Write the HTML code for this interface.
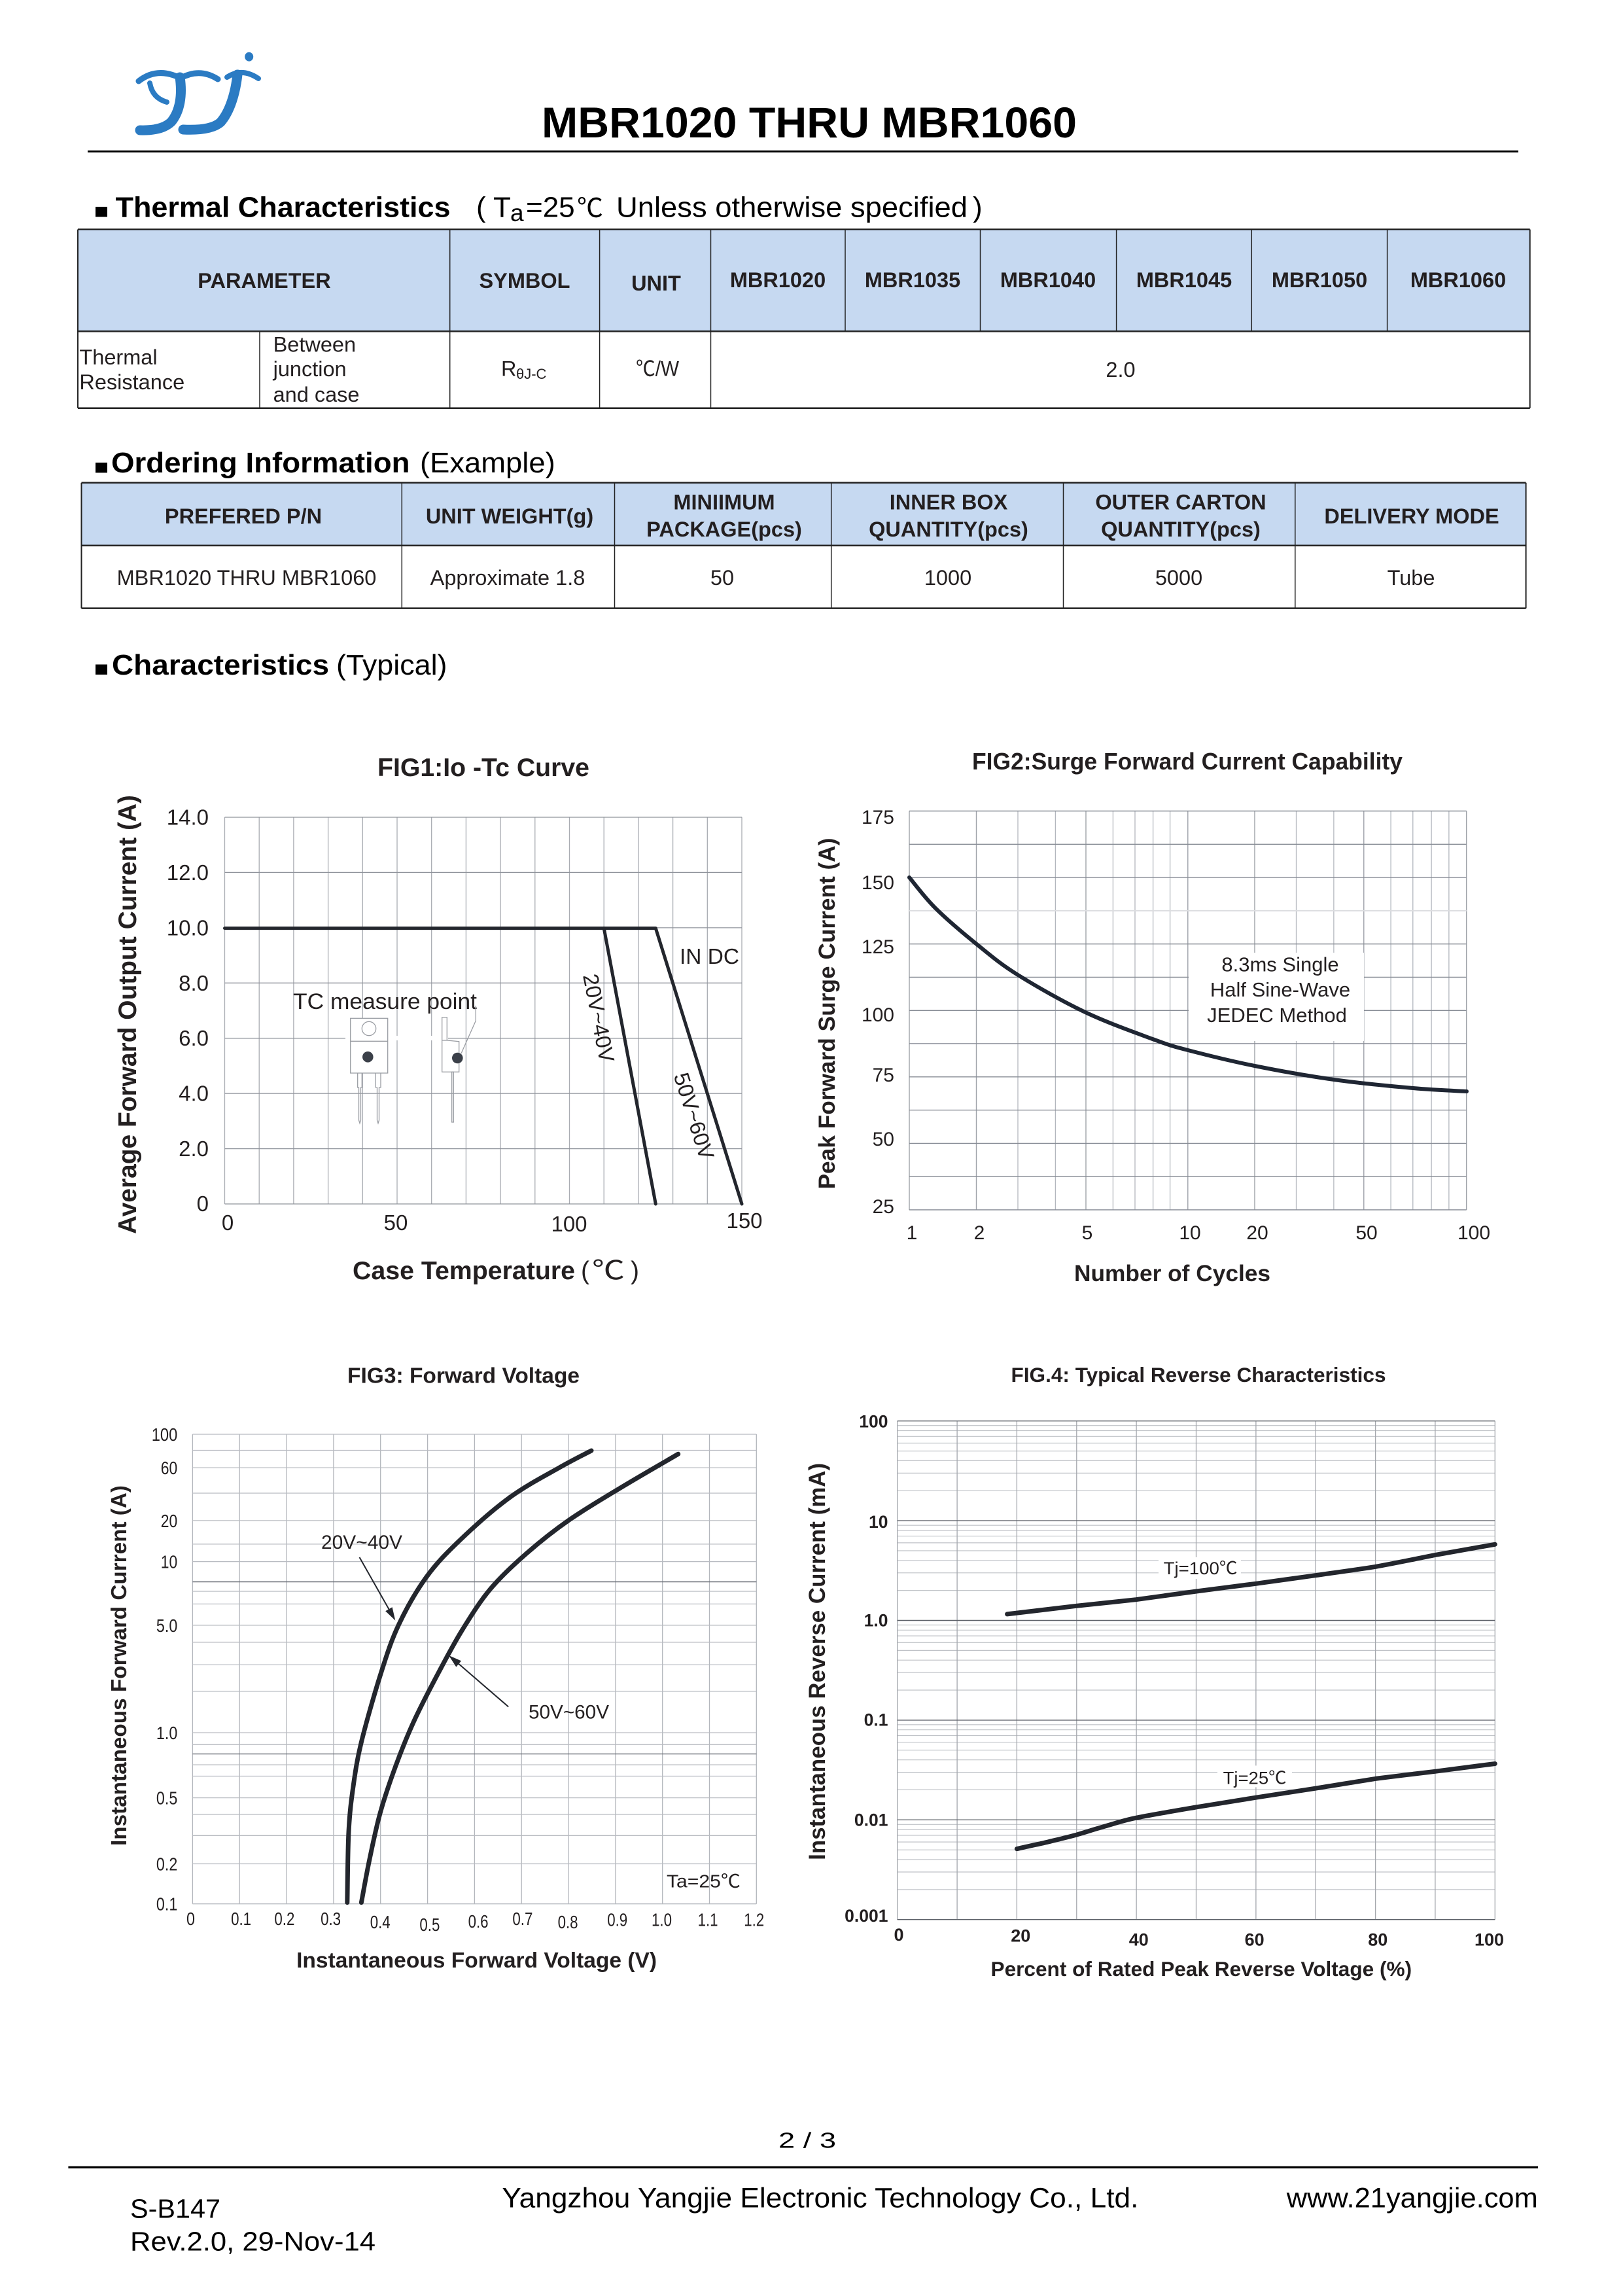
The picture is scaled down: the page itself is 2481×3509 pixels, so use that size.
<!DOCTYPE html>
<html><head><meta charset="utf-8"><style>
html,body{margin:0;padding:0;background:#fff;}
svg{display:block;}
text{font-family:"Liberation Sans","Noto Sans CJK SC",sans-serif;fill:#231f20;}
.b{font-weight:bold;}
</style></head><body>
<svg width="2481" height="3509" viewBox="0 0 2481 3509" xmlns="http://www.w3.org/2000/svg">
<rect width="2481" height="3509" fill="#fff"/>

<!-- LOGO -->
<g fill="none" stroke="#2b7bc3" stroke-linecap="round">
<path d="M212,124 Q240,102 275,119" stroke-width="9"/>
<path d="M229,127 Q233,150 255,156" stroke-width="8"/>
<path d="M275,118 C279,146 275,170 262,186 Q248,200 214,199" stroke-width="15"/>
<path d="M275,120 Q305,103 333,121" stroke-width="9"/>
<path d="M363,114 C360,141 352,170 337,187 Q322,200 280,198" stroke-width="15"/>
<path d="M347,118 Q370,103 395,120" stroke-width="8"/>
</g>
<ellipse cx="380.7" cy="86.7" rx="6.5" ry="7" fill="#2b7bc3"/>

<!-- TITLE -->
<text x="828" y="210" class="b" font-size="66" textLength="818" lengthAdjust="spacingAndGlyphs" style="fill:#000">MBR1020 THRU MBR1060</text>
<line x1="134" y1="231.5" x2="2321" y2="231.5" stroke="#000" stroke-width="3"/>

<!-- THERMAL HEADING -->
<rect x="146" y="316" width="18" height="15.5" fill="#000"/>
<text x="176.5" y="331.4" class="b" font-size="44" textLength="512" lengthAdjust="spacingAndGlyphs" style="fill:#000">Thermal Characteristics</text>
<text x="728" y="331.4" font-size="44" style="fill:#000">(</text>
<text x="754" y="331.4" font-size="44" style="fill:#000">T</text>
<text x="780" y="338" font-size="37" style="fill:#000">a</text>
<text x="804" y="331.4" font-size="44" style="fill:#000">=25</text>
<text x="882" y="331.4" font-size="40" style="fill:#000">℃</text>
<text x="942" y="331.4" font-size="44" textLength="537" lengthAdjust="spacingAndGlyphs" style="fill:#000">Unless otherwise specified</text>
<text x="1487" y="331.4" font-size="44" style="fill:#000">)</text>

<!-- THERMAL TABLE -->
<rect x="119" y="350.6" width="2219.7" height="155.8" fill="#c6d9f1"/>
<g stroke="#222" fill="none">
<line x1="119" y1="350.6" x2="2338.7" y2="350.6" stroke-width="2.5"/>
<line x1="119" y1="506.4" x2="2338.7" y2="506.4" stroke-width="2.5"/>
<line x1="119" y1="623.8" x2="2338.7" y2="623.8" stroke-width="2.5"/>
<line x1="119" y1="350.6" x2="119" y2="623.8" stroke-width="2"/>
<line x1="2338.7" y1="350.6" x2="2338.7" y2="623.8" stroke-width="2"/>
<line x1="397" y1="506.4" x2="397" y2="623.8" stroke-width="1.5"/>
<line x1="687.7" y1="350.6" x2="687.7" y2="623.8" stroke-width="1.5"/>
<line x1="916.6" y1="350.6" x2="916.6" y2="623.8" stroke-width="1.5"/>
<line x1="1086.5" y1="350.6" x2="1086.5" y2="623.8" stroke-width="1.5"/>
<line x1="1292" y1="350.6" x2="1292" y2="506.4" stroke-width="1.5"/>
<line x1="1498.5" y1="350.6" x2="1498.5" y2="506.4" stroke-width="1.5"/>
<line x1="1706.6" y1="350.6" x2="1706.6" y2="506.4" stroke-width="1.5"/>
<line x1="1913.3" y1="350.6" x2="1913.3" y2="506.4" stroke-width="1.5"/>
<line x1="2120.6" y1="350.6" x2="2120.6" y2="506.4" stroke-width="1.5"/>
</g>
<g class="b" font-size="32.5" text-anchor="middle">
<text x="404" y="440" class="b">PARAMETER</text>
<text x="802" y="440" class="b">SYMBOL</text>
<text x="1003" y="444" class="b">UNIT</text>
<text x="1189" y="439" class="b">MBR1020</text>
<text x="1395" y="439" class="b">MBR1035</text>
<text x="1602" y="439" class="b">MBR1040</text>
<text x="1810" y="439" class="b">MBR1045</text>
<text x="2017" y="439" class="b">MBR1050</text>
<text x="2229" y="439" class="b">MBR1060</text>
</g>
<g font-size="32.5">
<text x="121.4" y="557">Thermal</text>
<text x="121.4" y="595">Resistance</text>
<text x="417.6" y="537.7">Between</text>
<text x="417.6" y="575">junction</text>
<text x="417.6" y="614">and case</text>
<text x="766" y="574.7">R</text>
<text x="789" y="579" font-size="22">θJ-C</text>
<text x="972" y="574.7" textLength="66" lengthAdjust="spacingAndGlyphs">℃/W</text>
<text x="1713" y="576" text-anchor="middle">2.0</text>
</g>

<!-- ORDERING HEADING -->
<rect x="146" y="707" width="18" height="15.5" fill="#000"/>
<text x="170" y="722" class="b" font-size="44" textLength="456.5" lengthAdjust="spacingAndGlyphs" style="fill:#000">Ordering Information</text>
<text x="642" y="722" font-size="44" textLength="206.7" lengthAdjust="spacingAndGlyphs" style="fill:#000">(Example)</text>

<!-- ORDERING TABLE -->
<rect x="124.5" y="737.7" width="2208.1" height="96" fill="#c6d9f1"/>
<g stroke="#222" fill="none">
<line x1="124.5" y1="737.7" x2="2332.6" y2="737.7" stroke-width="2.5"/>
<line x1="124.5" y1="833.7" x2="2332.6" y2="833.7" stroke-width="2.5"/>
<line x1="124.5" y1="929.6" x2="2332.6" y2="929.6" stroke-width="2.5"/>
<line x1="124.5" y1="737.7" x2="124.5" y2="929.6" stroke-width="2"/>
<line x1="2332.6" y1="737.7" x2="2332.6" y2="929.6" stroke-width="2"/>
<line x1="614.3" y1="737.7" x2="614.3" y2="929.6" stroke-width="1.5"/>
<line x1="939.5" y1="737.7" x2="939.5" y2="929.6" stroke-width="1.5"/>
<line x1="1270.7" y1="737.7" x2="1270.7" y2="929.6" stroke-width="1.5"/>
<line x1="1625.5" y1="737.7" x2="1625.5" y2="929.6" stroke-width="1.5"/>
<line x1="1979.8" y1="737.7" x2="1979.8" y2="929.6" stroke-width="1.5"/>
</g>
<g font-size="32.5" text-anchor="middle">
<text x="372" y="800" class="b">PREFERED P/N</text>
<text x="779" y="800" class="b">UNIT WEIGHT(g)</text>
<text x="1107" y="778.7" class="b">MINIIMUM</text>
<text x="1107" y="820" class="b">PACKAGE(pcs)</text>
<text x="1450" y="778.7" class="b">INNER BOX</text>
<text x="1450" y="820" class="b">QUANTITY(pcs)</text>
<text x="1805" y="778.7" class="b">OUTER CARTON</text>
<text x="1805" y="820" class="b">QUANTITY(pcs)</text>
<text x="2158" y="800" class="b">DELIVERY MODE</text>
<text x="377" y="894">MBR1020 THRU MBR1060</text>
<text x="776" y="894">Approximate 1.8</text>
<text x="1104" y="894">50</text>
<text x="1449" y="894">1000</text>
<text x="1802" y="894">5000</text>
<text x="2157" y="894">Tube</text>
</g>

<!-- CHARACTERISTICS HEADING -->
<rect x="146" y="1015.5" width="18" height="15.5" fill="#000"/>
<text x="171" y="1031" class="b" font-size="44" textLength="332" lengthAdjust="spacingAndGlyphs" style="fill:#000">Characteristics</text>
<text x="514" y="1031" font-size="44" textLength="169.5" lengthAdjust="spacingAndGlyphs" style="fill:#000">(Typical)</text>

<!-- ================= FIG1 ================= -->
<text x="739" y="1186" class="b" font-size="39" text-anchor="middle" textLength="324" lengthAdjust="spacingAndGlyphs">FIG1:Io -Tc Curve</text>
<g stroke="#a9acb2" stroke-width="1.3">
<line x1="343.5" y1="1249" x2="343.5" y2="1840"/>
<line x1="396.2" y1="1249" x2="396.2" y2="1840"/>
<line x1="448.9" y1="1249" x2="448.9" y2="1840"/>
<line x1="501.6" y1="1249" x2="501.6" y2="1840"/>
<line x1="554.3" y1="1249" x2="554.3" y2="1840"/>
<line x1="607" y1="1249" x2="607" y2="1840"/>
<line x1="659.7" y1="1249" x2="659.7" y2="1840"/>
<line x1="712.4" y1="1249" x2="712.4" y2="1840"/>
<line x1="765.1" y1="1249" x2="765.1" y2="1840"/>
<line x1="817.8" y1="1249" x2="817.8" y2="1840"/>
<line x1="870.5" y1="1249" x2="870.5" y2="1840"/>
<line x1="923.2" y1="1249" x2="923.2" y2="1840"/>
<line x1="975.9" y1="1249" x2="975.9" y2="1840"/>
<line x1="1028.6" y1="1249" x2="1028.6" y2="1840"/>
<line x1="1081.3" y1="1249" x2="1081.3" y2="1840"/>
<line x1="1134" y1="1249" x2="1134" y2="1840"/>
</g>
<g stroke="#8f939b" stroke-width="1.3">
<line x1="343.5" y1="1840" x2="1134" y2="1840"/>
<line x1="343.5" y1="1755.6" x2="1134" y2="1755.6"/>
<line x1="343.5" y1="1671.1" x2="1134" y2="1671.1"/>
<line x1="343.5" y1="1586.7" x2="1134" y2="1586.7"/>
<line x1="343.5" y1="1502.3" x2="1134" y2="1502.3"/>
<line x1="343.5" y1="1417.9" x2="1134" y2="1417.9"/>
<line x1="343.5" y1="1333.4" x2="1134" y2="1333.4"/>
<line x1="343.5" y1="1249" x2="1134" y2="1249"/>
</g>
<rect x="528" y="1583" width="157" height="7" fill="#fff"/>
<g font-size="33" text-anchor="end">
<text x="319" y="1851">0</text>
<text x="319" y="1767">2.0</text>
<text x="319" y="1682.6">4.0</text>
<text x="319" y="1598">6.0</text>
<text x="319" y="1513.8">8.0</text>
<text x="319" y="1429.4">10.0</text>
<text x="319" y="1345">12.0</text>
<text x="319" y="1260.5">14.0</text>
</g>
<g font-size="33" text-anchor="middle">
<text x="348" y="1880">0</text>
<text x="605" y="1880">50</text>
<text x="870" y="1882">100</text>
<text x="1138" y="1877">150</text>
</g>
<text transform="translate(208,1550.5) rotate(-90)" class="b" font-size="39" text-anchor="middle" textLength="671" lengthAdjust="spacingAndGlyphs">Average Forward Output Current (A)</text>
<text x="539" y="1955" class="b" font-size="39" textLength="340" lengthAdjust="spacingAndGlyphs">Case Temperature</text>
<text x="888" y="1955" font-size="39">(</text>
<text x="905" y="1955" font-size="40" textLength="50" lengthAdjust="spacingAndGlyphs">℃</text>
<text x="964" y="1955" font-size="39">)</text>
<g stroke="#23262d" stroke-width="5" fill="none" stroke-linecap="round" stroke-linejoin="round">
<polyline points="343.5,1418.6 1002.3,1418.6 1134,1840"/>
<line x1="923.2" y1="1418.6" x2="1002.3" y2="1840"/>
</g>
<text x="1039" y="1473" font-size="33" textLength="91" lengthAdjust="spacingAndGlyphs">IN DC</text>
<text transform="translate(904,1558) rotate(79)" font-size="33" text-anchor="middle">20V~40V</text>
<text transform="translate(1050,1709) rotate(72.6)" font-size="33" text-anchor="middle">50V~60V</text>
<text x="448" y="1542" font-size="34" textLength="281" lengthAdjust="spacingAndGlyphs">TC measure point</text>
<g stroke="#9a9da3" stroke-width="1.3" fill="#fff">
<rect x="535.7" y="1556.3" width="57" height="83.7"/>
<line x1="535.7" y1="1591.3" x2="592.7" y2="1591.3"/>
<circle cx="564" cy="1572" r="10.7" fill="none"/>
<polyline points="546.7,1640 546.7,1662 548.5,1662 548.5,1712 550,1716.7 551.5,1712 551.5,1662 553.3,1662 553.3,1640" fill="none"/>
<polyline points="574.3,1640 574.3,1662 576.5,1662 576.5,1712 578,1716.7 579.5,1712 579.5,1662 582,1662 582,1640" fill="none"/>
<rect x="675.7" y="1554.7" width="7.6" height="35.3"/>
<polygon points="675.7,1590 683.3,1590 701.7,1591.7 701.7,1638.3 675.7,1638.3"/>
<rect x="690.7" y="1638.3" width="2.6" height="76.7" fill="none"/>
<polyline points="705,1610 727.3,1560 727.3,1537" fill="none"/>
</g>
<circle cx="562.3" cy="1615.3" r="8.3" fill="#3b4049"/>
<circle cx="699.3" cy="1617" r="8.3" fill="#3b4049"/>

<!-- ================= FIG2 ================= -->
<text x="1815" y="1176" class="b" font-size="36" text-anchor="middle" textLength="658" lengthAdjust="spacingAndGlyphs">FIG2:Surge Forward Current Capability</text>
<g stroke="#b3b7be" stroke-width="1.3">
<line x1="1556" y1="1239.5" x2="1556" y2="1849"/>
<line x1="1613.4" y1="1239.5" x2="1613.4" y2="1849"/>
<line x1="1701.4" y1="1239.5" x2="1701.4" y2="1849"/>
<line x1="1735" y1="1239.5" x2="1735" y2="1849"/>
<line x1="1762.6" y1="1239.5" x2="1762.6" y2="1849"/>
<line x1="1788.6" y1="1239.5" x2="1788.6" y2="1849"/>
<line x1="1981.5" y1="1239.5" x2="1981.5" y2="1849"/>
<line x1="2038.9" y1="1239.5" x2="2038.9" y2="1849"/>
<line x1="2126.1" y1="1239.5" x2="2126.1" y2="1849"/>
<line x1="2159.8" y1="1239.5" x2="2159.8" y2="1849"/>
<line x1="2188.1" y1="1239.5" x2="2188.1" y2="1849"/>
<line x1="2214.9" y1="1239.5" x2="2214.9" y2="1849"/>
</g>
<g stroke="#9ea2a9" stroke-width="1.4">
<line x1="1390" y1="1239.5" x2="1390" y2="1849"/>
<line x1="1492.5" y1="1239.5" x2="1492.5" y2="1849"/>
<line x1="1660" y1="1239.5" x2="1660" y2="1849"/>
<line x1="1815.8" y1="1239.5" x2="1815.8" y2="1849"/>
<line x1="1918" y1="1239.5" x2="1918" y2="1849"/>
<line x1="2084.8" y1="1239.5" x2="2084.8" y2="1849"/>
<line x1="2241.7" y1="1239.5" x2="2241.7" y2="1849"/>
</g>
<g stroke="#878c95" stroke-width="1.4">
<line x1="1390" y1="1849" x2="2241.7" y2="1849"/>
<line x1="1390" y1="1798.2" x2="2241.7" y2="1798.2"/>
<line x1="1390" y1="1747.4" x2="2241.7" y2="1747.4"/>
<line x1="1390" y1="1696.6" x2="2241.7" y2="1696.6"/>
<line x1="1390" y1="1645.8" x2="2241.7" y2="1645.8"/>
<line x1="1390" y1="1595" x2="2241.7" y2="1595"/>
<line x1="1390" y1="1544.3" x2="2241.7" y2="1544.3"/>
<line x1="1390" y1="1493.5" x2="2241.7" y2="1493.5"/>
<line x1="1390" y1="1442.7" x2="2241.7" y2="1442.7"/>
<line x1="1390" y1="1341.1" x2="2241.7" y2="1341.1"/>
<line x1="1390" y1="1290.3" x2="2241.7" y2="1290.3"/>
<line x1="1390" y1="1239.5" x2="2241.7" y2="1239.5"/>
</g>
<line x1="1390" y1="1391.9" x2="2241.7" y2="1391.9" stroke="#dcdde0" stroke-width="2"/>
<rect x="1817" y="1456" width="268" height="135" fill="#fff"/>
<g font-size="31" text-anchor="middle">
<text x="1957" y="1484.6">8.3ms Single</text>
<text x="1957" y="1523">Half Sine-Wave</text>
<text x="1952" y="1562">JEDEC Method</text>
</g>
<path fill="none" stroke="#1f2633" stroke-width="6" stroke-linecap="round" d="M1390,1341 C1396.7,1348.8 1412.8,1371 1430,1388 C1447.2,1405 1472,1426 1493,1443 C1514,1460 1528.3,1472.7 1556,1490 C1583.7,1507.3 1624.7,1530.7 1659,1547 C1693.3,1563.3 1735.8,1578.3 1762,1588 C1788.2,1597.7 1790,1598.2 1816,1605 C1842,1611.8 1880.8,1621.5 1918,1629 C1955.2,1636.5 1998.7,1644.3 2039,1650 C2079.3,1655.7 2126.2,1660 2160,1663 C2193.8,1666 2228.3,1667.2 2242,1668"/>
<g font-size="30" text-anchor="end">
<text x="1367" y="1259">175</text>
<text x="1367" y="1359">150</text>
<text x="1367" y="1457">125</text>
<text x="1367" y="1561">100</text>
<text x="1367" y="1653">75</text>
<text x="1367" y="1751">50</text>
<text x="1367" y="1854">25</text>
</g>
<g font-size="30" text-anchor="middle">
<text x="1394" y="1894">1</text>
<text x="1497" y="1894">2</text>
<text x="1662" y="1894">5</text>
<text x="1819" y="1894">10</text>
<text x="1922" y="1894">20</text>
<text x="2089" y="1894">50</text>
<text x="2253" y="1894">100</text>
</g>
<text transform="translate(1276,1549) rotate(-90)" class="b" font-size="35" text-anchor="middle" textLength="537" lengthAdjust="spacingAndGlyphs">Peak Forward Surge Current (A)</text>
<text x="1792" y="1958" class="b" font-size="35" text-anchor="middle" textLength="300" lengthAdjust="spacingAndGlyphs">Number of Cycles</text>

<!-- ================= FIG3 ================= -->
<text x="708.5" y="2113.4" class="b" font-size="33" text-anchor="middle" textLength="355" lengthAdjust="spacingAndGlyphs">FIG3: Forward Voltage</text>
<g stroke="#b3b6bc" stroke-width="1.3">
<line x1="294.4" y1="2192" x2="294.4" y2="2909.7"/>
<line x1="366.2" y1="2192" x2="366.2" y2="2909.7"/>
<line x1="438.1" y1="2192" x2="438.1" y2="2909.7"/>
<line x1="509.9" y1="2192" x2="509.9" y2="2909.7"/>
<line x1="581.7" y1="2192" x2="581.7" y2="2909.7"/>
<line x1="653.6" y1="2192" x2="653.6" y2="2909.7"/>
<line x1="725.4" y1="2192" x2="725.4" y2="2909.7"/>
<line x1="797.2" y1="2192" x2="797.2" y2="2909.7"/>
<line x1="869" y1="2192" x2="869" y2="2909.7"/>
<line x1="940.9" y1="2192" x2="940.9" y2="2909.7"/>
<line x1="1012.7" y1="2192" x2="1012.7" y2="2909.7"/>
<line x1="1084.5" y1="2192" x2="1084.5" y2="2909.7"/>
<line x1="1156.3" y1="2192" x2="1156.3" y2="2909.7"/>
</g>
<g stroke="#b8bbc1" stroke-width="1.3">
<line x1="294.4" y1="2192" x2="1156.3" y2="2192"/>
<line x1="294.4" y1="2216.5" x2="1156.3" y2="2216.5"/>
<line x1="294.4" y1="2243.1" x2="1156.3" y2="2243.1"/>
<line x1="294.4" y1="2282" x2="1156.3" y2="2282"/>
<line x1="294.4" y1="2323.9" x2="1156.3" y2="2323.9"/>
<line x1="294.4" y1="2359.9" x2="1156.3" y2="2359.9"/>
<line x1="294.4" y1="2386.6" x2="1156.3" y2="2386.6"/>
<line x1="294.4" y1="2432" x2="1156.3" y2="2432"/>
<line x1="294.4" y1="2451.4" x2="1156.3" y2="2451.4"/>
<line x1="294.4" y1="2483.8" x2="1156.3" y2="2483.8"/>
<line x1="294.4" y1="2509.8" x2="1156.3" y2="2509.8"/>
<line x1="294.4" y1="2544.4" x2="1156.3" y2="2544.4"/>
<line x1="294.4" y1="2584.7" x2="1156.3" y2="2584.7"/>
<line x1="294.4" y1="2648.2" x2="1156.3" y2="2648.2"/>
<line x1="294.4" y1="2666.2" x2="1156.3" y2="2666.2"/>
<line x1="294.4" y1="2697.2" x2="1156.3" y2="2697.2"/>
<line x1="294.4" y1="2714.5" x2="1156.3" y2="2714.5"/>
<line x1="294.4" y1="2747.6" x2="1156.3" y2="2747.6"/>
<line x1="294.4" y1="2772.8" x2="1156.3" y2="2772.8"/>
<line x1="294.4" y1="2805.3" x2="1156.3" y2="2805.3"/>
<line x1="294.4" y1="2848.5" x2="1156.3" y2="2848.5"/>
<line x1="294.4" y1="2909.7" x2="1156.3" y2="2909.7"/>
</g>
<g stroke="#6d7179" stroke-width="1.4">
<line x1="294.4" y1="2417.5" x2="1156.3" y2="2417.5"/>
<line x1="294.4" y1="2680.6" x2="1156.3" y2="2680.6"/>
</g>
<g fill="none" stroke="#23262d" stroke-width="7" stroke-linecap="round">
<path d="M530.8,2907.6 C531.2,2889.7 531.5,2829.6 533,2800 C534.5,2770.4 536.7,2753.3 540,2730 C543.3,2706.7 545.8,2689.2 553,2660 C560.2,2630.8 573.5,2584.7 583,2555 C592.5,2525.3 598.5,2506.2 610,2482 C621.5,2457.8 636.3,2431.5 652,2410 C667.7,2388.5 682.7,2373.3 704,2353 C725.3,2332.7 754.8,2306.3 780,2288 C805.2,2269.7 834.3,2254.8 855,2243 C875.7,2231.2 895.8,2221.3 904,2217"/>
<path d="M552.4,2907.6 C554.45,2896.8 559.9,2865.5 564.7,2842.7 C569.5,2819.9 574.5,2794.7 581.2,2770.7 C587.9,2746.7 596.4,2722 605,2698.6 C613.6,2675.2 622,2654 633,2630 C644.1,2606 658.9,2577.8 671.3,2554.5 C683.7,2531.2 694.2,2511.1 707.3,2490 C720.4,2468.9 733.7,2447.3 750,2428 C766.3,2408.7 785,2391.5 805,2374 C825,2356.5 845.8,2339.8 870,2323 C894.2,2306.2 922.2,2289.8 950,2273 C977.8,2256.2 1022.3,2230.7 1036.7,2222.2"/>
</g>
<g stroke="#23262d" stroke-width="2">
<line x1="549.5" y1="2380" x2="596" y2="2462"/>
<line x1="777.2" y1="2608.5" x2="699" y2="2541"/>
</g>
<polygon points="604.3,2476.6 589.2,2462.2 599.6,2456.2" fill="#23262d"/>
<polygon points="686,2530 705.1,2538.4 697.3,2547.6" fill="#23262d"/>
<text x="491" y="2367" font-size="30" textLength="124" lengthAdjust="spacingAndGlyphs">20V~40V</text>
<text x="808" y="2626.5" font-size="30" textLength="123" lengthAdjust="spacingAndGlyphs">50V~60V</text>
<text x="1019" y="2884.5" font-size="28" textLength="113" lengthAdjust="spacingAndGlyphs">Ta=25℃</text>
<g font-size="28" text-anchor="end">
<text x="271.3" y="2202" textLength="39.6" lengthAdjust="spacingAndGlyphs">100</text>
<text x="271.3" y="2253" textLength="25.5" lengthAdjust="spacingAndGlyphs">60</text>
<text x="271.3" y="2334" textLength="25.5" lengthAdjust="spacingAndGlyphs">20</text>
<text x="271.3" y="2396.6" textLength="25.5" lengthAdjust="spacingAndGlyphs">10</text>
<text x="271.3" y="2493.8" textLength="32.4" lengthAdjust="spacingAndGlyphs">5.0</text>
<text x="271.3" y="2658.2" textLength="32.4" lengthAdjust="spacingAndGlyphs">1.0</text>
<text x="271.3" y="2757.6" textLength="32.4" lengthAdjust="spacingAndGlyphs">0.5</text>
<text x="271.3" y="2858.5" textLength="32.4" lengthAdjust="spacingAndGlyphs">0.2</text>
<text x="271.3" y="2919.7" textLength="32.4" lengthAdjust="spacingAndGlyphs">0.1</text>
</g>
<g font-size="28" text-anchor="middle">
<text x="291.5" y="2942.2" textLength="13" lengthAdjust="spacingAndGlyphs">0</text>
<text x="368.6" y="2942.2" textLength="31" lengthAdjust="spacingAndGlyphs">0.1</text>
<text x="434.9" y="2942.2" textLength="31" lengthAdjust="spacingAndGlyphs">0.2</text>
<text x="505.6" y="2942.2" textLength="31" lengthAdjust="spacingAndGlyphs">0.3</text>
<text x="581.2" y="2947.2" textLength="31" lengthAdjust="spacingAndGlyphs">0.4</text>
<text x="656.9" y="2950.8" textLength="31" lengthAdjust="spacingAndGlyphs">0.5</text>
<text x="731.1" y="2945.8" textLength="31" lengthAdjust="spacingAndGlyphs">0.6</text>
<text x="798.9" y="2942.2" textLength="31" lengthAdjust="spacingAndGlyphs">0.7</text>
<text x="868.1" y="2947.2" textLength="31" lengthAdjust="spacingAndGlyphs">0.8</text>
<text x="943.7" y="2943.6" textLength="31" lengthAdjust="spacingAndGlyphs">0.9</text>
<text x="1011.5" y="2943.6" textLength="31" lengthAdjust="spacingAndGlyphs">1.0</text>
<text x="1082.1" y="2943.6" textLength="31" lengthAdjust="spacingAndGlyphs">1.1</text>
<text x="1152.7" y="2943.6" textLength="31" lengthAdjust="spacingAndGlyphs">1.2</text>
</g>
<text transform="translate(193,2545.5) rotate(-90)" class="b" font-size="33" text-anchor="middle" textLength="551" lengthAdjust="spacingAndGlyphs">Instantaneous Forward Current (A)</text>
<text x="728.6" y="3007" class="b" font-size="33" text-anchor="middle" textLength="551" lengthAdjust="spacingAndGlyphs">Instantaneous Forward Voltage (V)</text>

<!-- ================= FIG4 ================= -->
<text x="1832" y="2111.8" class="b" font-size="31.5" text-anchor="middle" textLength="573" lengthAdjust="spacingAndGlyphs">FIG.4: Typical Reverse Characteristics</text>
<g stroke="#bfc2c7" stroke-width="1.2">
<line x1="1371.7" y1="2887.8" x2="2285.3" y2="2887.8"/><line x1="1371.7" y1="2861" x2="2285.3" y2="2861"/><line x1="1371.7" y1="2842" x2="2285.3" y2="2842"/><line x1="1371.7" y1="2827.2" x2="2285.3" y2="2827.2"/><line x1="1371.7" y1="2815.1" x2="2285.3" y2="2815.1"/><line x1="1371.7" y1="2804.9" x2="2285.3" y2="2804.9"/><line x1="1371.7" y1="2796.1" x2="2285.3" y2="2796.1"/><line x1="1371.7" y1="2788.3" x2="2285.3" y2="2788.3"/>
<line x1="1371.7" y1="2735.4" x2="2285.3" y2="2735.4"/><line x1="1371.7" y1="2708.6" x2="2285.3" y2="2708.6"/><line x1="1371.7" y1="2689.6" x2="2285.3" y2="2689.6"/><line x1="1371.7" y1="2674.8" x2="2285.3" y2="2674.8"/><line x1="1371.7" y1="2662.7" x2="2285.3" y2="2662.7"/><line x1="1371.7" y1="2652.5" x2="2285.3" y2="2652.5"/><line x1="1371.7" y1="2643.7" x2="2285.3" y2="2643.7"/><line x1="1371.7" y1="2635.9" x2="2285.3" y2="2635.9"/>
<line x1="1371.7" y1="2583" x2="2285.3" y2="2583"/><line x1="1371.7" y1="2556.2" x2="2285.3" y2="2556.2"/><line x1="1371.7" y1="2537.2" x2="2285.3" y2="2537.2"/><line x1="1371.7" y1="2522.4" x2="2285.3" y2="2522.4"/><line x1="1371.7" y1="2510.3" x2="2285.3" y2="2510.3"/><line x1="1371.7" y1="2500.1" x2="2285.3" y2="2500.1"/><line x1="1371.7" y1="2491.3" x2="2285.3" y2="2491.3"/><line x1="1371.7" y1="2483.5" x2="2285.3" y2="2483.5"/>
<line x1="1371.7" y1="2430.6" x2="2285.3" y2="2430.6"/><line x1="1371.7" y1="2403.8" x2="2285.3" y2="2403.8"/><line x1="1371.7" y1="2384.8" x2="2285.3" y2="2384.8"/><line x1="1371.7" y1="2370" x2="2285.3" y2="2370"/><line x1="1371.7" y1="2357.9" x2="2285.3" y2="2357.9"/><line x1="1371.7" y1="2347.7" x2="2285.3" y2="2347.7"/><line x1="1371.7" y1="2338.9" x2="2285.3" y2="2338.9"/><line x1="1371.7" y1="2331.1" x2="2285.3" y2="2331.1"/>
<line x1="1371.7" y1="2278.2" x2="2285.3" y2="2278.2"/><line x1="1371.7" y1="2251.4" x2="2285.3" y2="2251.4"/><line x1="1371.7" y1="2232.4" x2="2285.3" y2="2232.4"/><line x1="1371.7" y1="2217.6" x2="2285.3" y2="2217.6"/><line x1="1371.7" y1="2205.5" x2="2285.3" y2="2205.5"/><line x1="1371.7" y1="2195.3" x2="2285.3" y2="2195.3"/><line x1="1371.7" y1="2186.5" x2="2285.3" y2="2186.5"/><line x1="1371.7" y1="2178.7" x2="2285.3" y2="2178.7"/>
</g>
<g stroke="#a4a7ad" stroke-width="1.3">
<line x1="1371.7" y1="2171.7" x2="1371.7" y2="2933.7"/>
<line x1="1463.1" y1="2171.7" x2="1463.1" y2="2933.7"/>
<line x1="1554.4" y1="2171.7" x2="1554.4" y2="2933.7"/>
<line x1="1645.8" y1="2171.7" x2="1645.8" y2="2933.7"/>
<line x1="1737.1" y1="2171.7" x2="1737.1" y2="2933.7"/>
<line x1="1828.5" y1="2171.7" x2="1828.5" y2="2933.7"/>
<line x1="1919.9" y1="2171.7" x2="1919.9" y2="2933.7"/>
<line x1="2011.2" y1="2171.7" x2="2011.2" y2="2933.7"/>
<line x1="2102.6" y1="2171.7" x2="2102.6" y2="2933.7"/>
<line x1="2193.9" y1="2171.7" x2="2193.9" y2="2933.7"/>
<line x1="2285.3" y1="2171.7" x2="2285.3" y2="2933.7"/>
</g>
<g stroke="#5d6169" stroke-width="1.4">
<line x1="1371.7" y1="2171.7" x2="2285.3" y2="2171.7"/>
<line x1="1371.7" y1="2324.1" x2="2285.3" y2="2324.1"/>
<line x1="1371.7" y1="2476.5" x2="2285.3" y2="2476.5"/>
<line x1="1371.7" y1="2628.9" x2="2285.3" y2="2628.9"/>
<line x1="1371.7" y1="2781.3" x2="2285.3" y2="2781.3"/>
<line x1="1371.7" y1="2933.7" x2="2285.3" y2="2933.7"/>
</g>
<rect x="1771" y="2380" width="126" height="33" fill="#fff"/>
<rect x="1861" y="2698.4" width="114" height="33" fill="#fff"/>
<g fill="none" stroke="#23262d" stroke-width="7" stroke-linecap="round" stroke-linejoin="round">
<path d="M1539.6,2466.9 C1575,2462.7 1610,2458.5 1645.4,2454.3 C1676,2451 1706,2448 1736.4,2444.7 C1767,2440.5 1797.5,2436.3 1828.1,2432.1 C1858.7,2428.2 1889.3,2424.2 1919.9,2420.3 C1950.2,2416 1980.5,2412 2010.8,2407.7 C2041.4,2403.3 2072,2399.2 2102.6,2394.4 C2133,2389 2163,2382.6 2193.6,2376.6 C2224,2371 2254.7,2365.7 2285.3,2360.3"/>
<path d="M1554.4,2825.7 C1570,2822 1586,2818.8 1601,2815.3 C1616,2811.6 1631,2808 1645.4,2804.2 C1660,2800 1675,2795 1689.8,2790.9 C1705,2786.4 1720,2781.5 1736.4,2778.3 C1767,2772.3 1797.5,2767.2 1828.1,2762 C1858.7,2757 1889.3,2752 1919.9,2747.2 C1950.2,2742.5 1980.5,2737.8 2010.8,2733.2 C2041.4,2728.3 2072,2723.2 2102.6,2718.4 C2133,2714.5 2163,2711 2193.6,2707.3 C2224,2703.3 2254.7,2699.4 2285.3,2695.5"/>
</g>
<text x="1778.6" y="2406" font-size="27" textLength="113" lengthAdjust="spacingAndGlyphs">Tj=100℃</text>
<text x="1869.6" y="2726.5" font-size="27" textLength="97" lengthAdjust="spacingAndGlyphs">Tj=25℃</text>
<g class="b" font-size="26.5" text-anchor="end">
<text x="1357.5" y="2181.7" class="b">100</text>
<text x="1357.5" y="2335" class="b">10</text>
<text x="1357.5" y="2485.5" class="b">1.0</text>
<text x="1357.5" y="2637.5" class="b">0.1</text>
<text x="1357.5" y="2790.5" class="b">0.01</text>
<text x="1357.5" y="2937" class="b">0.001</text>
</g>
<g class="b" font-size="27" text-anchor="middle">
<text x="1374" y="2966" class="b">0</text>
<text x="1560.3" y="2967.7" class="b">20</text>
<text x="1740.8" y="2973.6" class="b">40</text>
<text x="1917.6" y="2973.6" class="b">60</text>
<text x="2106.3" y="2973.6" class="b">80</text>
<text x="2276.5" y="2973.6" class="b">100</text>
</g>
<text transform="translate(1261,2539.4) rotate(-90)" class="b" font-size="35" text-anchor="middle" textLength="607" lengthAdjust="spacingAndGlyphs">Instantaneous Reverse Current (mA)</text>
<text x="1836.3" y="3020" class="b" font-size="31.5" text-anchor="middle" textLength="643.6" lengthAdjust="spacingAndGlyphs">Percent of Rated Peak Reverse Voltage (%)</text>

<!-- FOOTER -->
<text x="1234" y="3282.7" font-size="33" text-anchor="middle" textLength="88" lengthAdjust="spacingAndGlyphs" style="fill:#000">2 / 3</text>
<line x1="104.4" y1="3312.3" x2="2351" y2="3312.3" stroke="#000" stroke-width="3.3"/>
<text x="199" y="3389.3" font-size="41" textLength="138" lengthAdjust="spacingAndGlyphs" style="fill:#000">S-B147</text>
<text x="199" y="3439.3" font-size="41" textLength="375" lengthAdjust="spacingAndGlyphs" style="fill:#000">Rev.2.0, 29-Nov-14</text>
<text x="767.4" y="3373.3" font-size="43" textLength="973" lengthAdjust="spacingAndGlyphs" style="fill:#000">Yangzhou Yangjie Electronic Technology Co., Ltd.</text>
<text x="1966.8" y="3373.3" font-size="43" textLength="384" lengthAdjust="spacingAndGlyphs" style="fill:#000">www.21yangjie.com</text>
</svg>
</body></html>
